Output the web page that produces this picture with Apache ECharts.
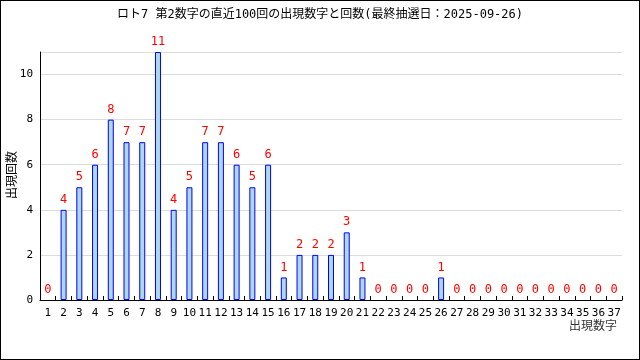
<!DOCTYPE html>
<html><head><meta charset="utf-8">
<script src="https://cdn.jsdelivr.net/npm/echarts@6/dist/echarts.min.js"></script>
<style>html,body{margin:0;padding:0;background:#fff}#c{width:640px;height:360px;box-sizing:border-box;border:1px solid #000}</style>
</head><body><div id="c"></div>
<script>
const titleText = 'ロト7 第2数字の直近100回の出現数字と回数(最終抽選日：2025-09-26)';
const xName = '出現数字';
const yName = '出現回数';
const categories = ['1','2','3','4','5','6','7','8','9','10','11','12','13','14','15','16','17','18','19','20','21','22','23','24','25','26','27','28','29','30','31','32','33','34','35','36','37'];
const counts = [0,4,5,6,8,7,7,11,4,5,7,7,6,5,6,1,2,2,2,3,1,0,0,0,0,1,0,0,0,0,0,0,0,0,0,0,0];
const yTicks = [0,2,4,6,8,10];
const FONT = "'DejaVu Sans Mono','Noto Sans CJK JP',monospace";
const barData = counts.map(v => v === 0 ? {value:v,itemStyle:{borderWidth:0,color:'transparent'}} : v);
const chart = echarts.init(document.getElementById('c'), null, {renderer:'canvas'});
chart.setOption({
  animation:false,
  title:{text:titleText,left:'center',top:3,textStyle:{fontFamily:FONT,fontSize:12,fontWeight:'normal',color:'#000'}},
  grid:{left:39,right:17,top:51,bottom:59,containLabel:false,outerBoundsMode:'none'},
  graphic:[
    {type:'text',right:22,top:318,style:{text:xName,font:"12px 'Noto Sans CJK JP'",fill:'#333'}},
    {type:'text',left:4,top:150,rotation:Math.PI/2,originX:0,originY:0,
     style:{text:yName,font:"12px 'Noto Sans CJK JP'",fill:'#000',align:'center',verticalAlign:'middle'}}
  ],
  xAxis:{type:'category',data:categories,
    axisLine:{lineStyle:{color:'#000'}},
    axisTick:{show:true,inside:true,length:4,lineStyle:{color:'#000'}},
    axisLabel:{fontFamily:FONT,fontSize:11,color:'#000',margin:8,interval:0}},
  yAxis:{type:'value',min:0,max:11,interval:2,
    axisLine:{show:true,lineStyle:{color:'#000'}},axisTick:{show:false},
    axisLabel:{fontFamily:FONT,fontSize:11,color:'#000',margin:7,formatter:v=>yTicks.includes(v)?String(v):''},
    splitLine:{lineStyle:{color:'#dcdcdc'}}},
  series:[{type:'bar',data:barData,barWidth:6,
    itemStyle:{color:'#add8e6',borderColor:'#0000ff',borderWidth:1},
    label:{show:true,position:'top',distance:4,color:'#ff0000',fontFamily:FONT,fontSize:12}}]
});
</script></body></html>
